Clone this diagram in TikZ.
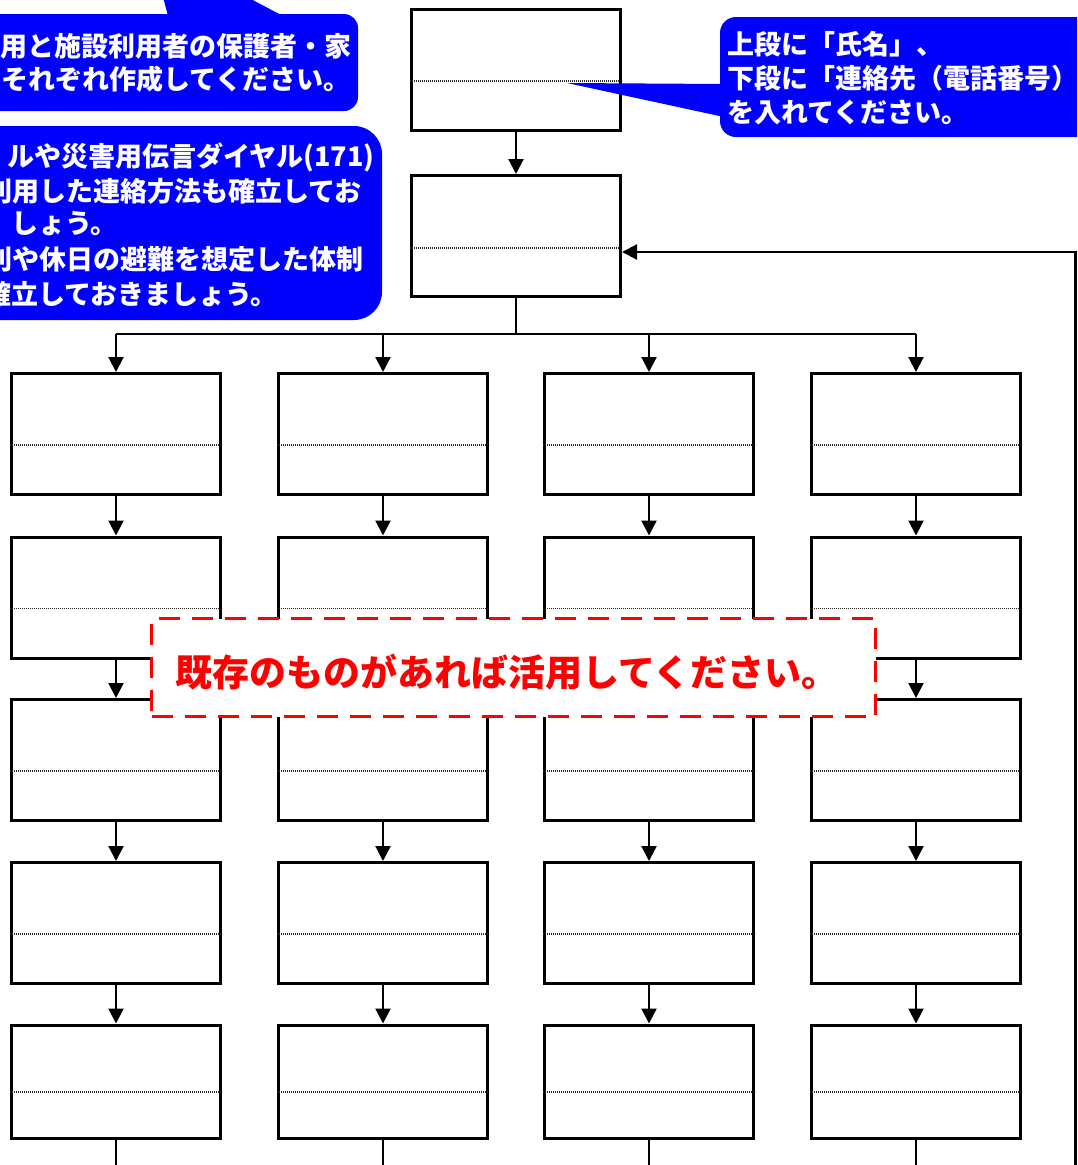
\documentclass[tikz,border=0pt]{standalone}
\usepackage{fontspec}
\newfontfamily\jp{Noto Sans CJK JP}
\usetikzlibrary{arrows.meta}
\definecolor{cblue}{RGB}{0,0,255}
\definecolor{cred}{RGB}{255,0,0}
\begin{document}
\begin{tikzpicture}[x=1pt,y=-1pt,
  slot/.style={draw, line width=3pt, rectangle, minimum width=209pt, minimum height=121pt, inner sep=0pt, fill=white},
  lastslot/.style={slot, minimum height=113pt},
  divider/.style={line width=1.3pt, black!85, dash pattern=on 1.2pt off 0.8pt},
  arr/.style={line width=2.2pt, -{Triangle[length=15pt,width=15pt]}},
  link/.style={line width=2.2pt},
  bubble/.style={fill=cblue},
  calltext/.style={text=white, font=\jp\bfseries\fontsize{27pt}{27pt}\selectfont, anchor=west, inner sep=0pt},
  notebox/.style={draw=cred, line width=3.4pt, dash pattern=on 21pt off 12pt, fill=white, minimum width=724pt, minimum height=98pt, inner sep=0pt},
  notetext/.style={text=cred, inner sep=0pt, font=\jp\bfseries\fontsize{37pt}{37pt}\selectfont}
]
\useasboundingbox (0,0) rectangle (1077,1165);
\clip (0,0) rectangle (1077,1165);

% top boxes
\node[slot] (A) at (516,70) {};
\node[slot] (B) at (516,236) {};
\draw[divider] ([yshift=-11pt]A.west) -- ([yshift=-11pt]A.east);
\draw[divider] ([yshift=-12pt]B.west) -- ([yshift=-12pt]B.east);
\draw[arr] (A) -- (B);

% grid
\foreach \c/\x in {1/116,2/383,3/649,4/916}{
  \foreach \r/\y in {1/434,2/597.5,3/760,4/923}{
    \node[slot] (r\r c\c) at (\x,\y) {};
    \draw[divider] ([yshift=-11pt]r\r c\c.west) -- ([yshift=-11pt]r\r c\c.east);
  }
  \node[lastslot] (r5c\c) at (\x,1081.5) {};
  \draw[divider] ([yshift=-10.5pt]r5c\c.west) -- ([yshift=-10.5pt]r5c\c.east);
  \draw[arr] (r1c\c.south) -- (r2c\c.north);
  \draw[arr] (r2c\c.south) -- (r3c\c.north);
  \draw[arr] (r3c\c.south) -- (r4c\c.north);
  \draw[arr] (r4c\c.south) -- (r5c\c.north);
  \coordinate (end\c) at (\x,1168);
  \draw[link] (r5c\c.south) -- (end\c);
}

% split from B
\coordinate (hub) at (516,334);
\draw[link] (B.south) -- (hub);
\draw[link] (r1c1.north |- hub) -- (r1c4.north |- hub);
\foreach \c in {1,2,3,4}{
  \draw[arr] (r1c\c.north |- hub) -- (r1c\c.north);
}

% loop back on the right
\coordinate (loopend) at (1075.5,1168);
\draw[link, -{Triangle[length=15pt,width=15pt]}] (loopend) |- ([yshift=-16pt]B.east);

% red note
\node[notebox] (note) at (513.5,667.5) {};
\node[notetext] (notelabel) at (507,672) {既存のものがあれば活用してください。};

% callout 1
\fill[bubble] (168,16) -- (163,-3) -- (247,-3) -- (283,16) -- cycle;
\fill[bubble, rounded corners=14pt] (-30,14) rectangle (358,111);
\node[calltext] (c1a) at (0,46) {用と施設利用者の保護者・家};
\node[calltext] (c1b) at (1,79) {それぞれ作成してください。};

% callout 2
\fill[bubble, rounded corners=28pt] (-30,126) rectangle (382,320);
\node[calltext] (c2a) at (7,157) {ルや災害用伝言ダイヤル(171)};
\node[calltext] (c2b) at (-15,191) {利用した連絡方法も確立してお};
\node[calltext] (c2c) at (11,224) {しょう。};
\node[calltext] (c2d) at (-15,259) {別や休日の避難を想定した体制};
\node[calltext] (c2e) at (-16,294) {確立しておきましょう。};

% callout 3
\fill[bubble] (567,83) -- (724,84) -- (724,117) -- cycle;
\fill[bubble, rounded corners=16pt] (720,17) rectangle (1110,137);
\node[calltext] (c3a) at (727,44) {上段に「氏名」、};
\node[calltext] (c3b) at (727,78) {下段に「連絡先（電話番号）};
\node[calltext] (c3c) at (727,112) {を入れてください。};
\end{tikzpicture}
\end{document}
